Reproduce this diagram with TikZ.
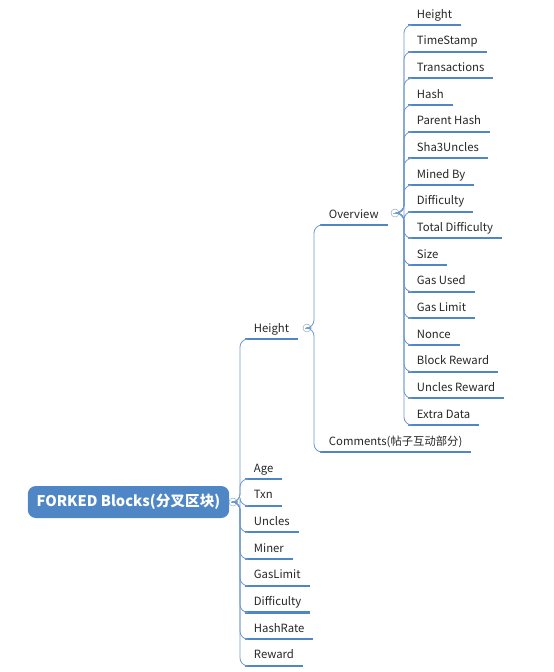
\documentclass[tikz,border=0pt]{standalone}
\usepackage{fontspec}
\setmainfont{Noto Sans CJK SC}
\usetikzlibrary{positioning}
\definecolor{mmblue}{HTML}{4F86C6}
\definecolor{linkblue}{HTML}{6F98CC}
\definecolor{knobgray}{HTML}{9AAFC9}
\tikzset{
    root/.style={
        fill=mmblue,
        rounded corners=6pt,
        minimum width=151pt,
        minimum height=24pt,
        text=white,
        font=\fontsize{11}{13}\selectfont\bfseries
    },
    topic/.style={
        anchor=south west,
        inner xsep=6.5pt,
        inner ysep=3pt,
        text height=7pt,
        text depth=2pt,
        text=black!85,
        font=\fontsize{8.5}{10}\selectfont,
        append after command={
            (\tikzlastnode.south west) edge[draw=mmblue, line width=1.6pt] (\tikzlastnode.south east)
        }
    },
    link/.style={
        draw=linkblue,
        line width=0.6pt,
        rounded corners=6pt
    },
    knob/.style={
        circle,
        draw=knobgray,
        fill=white,
        minimum size=6pt,
        inner sep=0pt,
        path picture={
            \draw[knobgray] ([xshift=-1.8pt]path picture bounding box.center)
                -- ([xshift=1.8pt]path picture bounding box.center);
        }
    }
}

\begin{document}
\begin{tikzpicture}[x=0.75pt, y=-0.75pt]

    \useasboundingbox (0,0) rectangle (554,672);

    % Wurzel
    \node[root] (fb) at (128.5,502) {FORKED Blocks(分叉区块)};
    \node[knob] (kfb) at (233,502) {};
    \coordinate (sfb) at (240,0);

    % erste Ebene
    \node[topic] (ht) at (245,339) {Height};
    \foreach \lbl [count=\i] in {Age, Txn, Uncles, Miner, GasLimit, Difficulty, HashRate, Reward}
        \node[topic] (b\i) at (245, {479+(\i-1)*26.7}) {\lbl};

    \node[knob] (kht) at (307,328) {};
    \coordinate (sht) at (314,0);

    % zweite Ebene
    \node[topic] (ov) at (320,225) {Overview};
    \node[topic] (cm) at (320,452) {Comments(帖子互动部分)};

    \node[knob] (kov) at (395,213) {};
    \coordinate (sov) at (404,0);

    % dritte Ebene
    \foreach \lbl [count=\i] in {Height, TimeStamp, Transactions, Hash, Parent Hash,
            Sha3Uncles, Mined By, Difficulty, Total Difficulty, Size, Gas Used,
            Gas Limit, Nonce, Block Reward, Uncles Reward, Extra Data}
        \node[topic] (o\i) at (408, {25+(\i-1)*26.67}) {\lbl};

    % Verbindungen
    \draw[link] (kfb.east) -- (kfb.east -| sfb) |- (ht.south west);
    \foreach \i in {1,...,8}
        \draw[link] (kfb.east) -- (kfb.east -| sfb) |- (b\i.south west);

    \draw[link] (kht.east) -- (kht.east -| sht) |- (ov.south west);
    \draw[link] (kht.east) -- (kht.east -| sht) |- (cm.south west);

    \foreach \i in {1,...,16}
        \draw[link] (kov.east) -- (kov.east -| sov) |- (o\i.south west);

\end{tikzpicture}
\end{document}
